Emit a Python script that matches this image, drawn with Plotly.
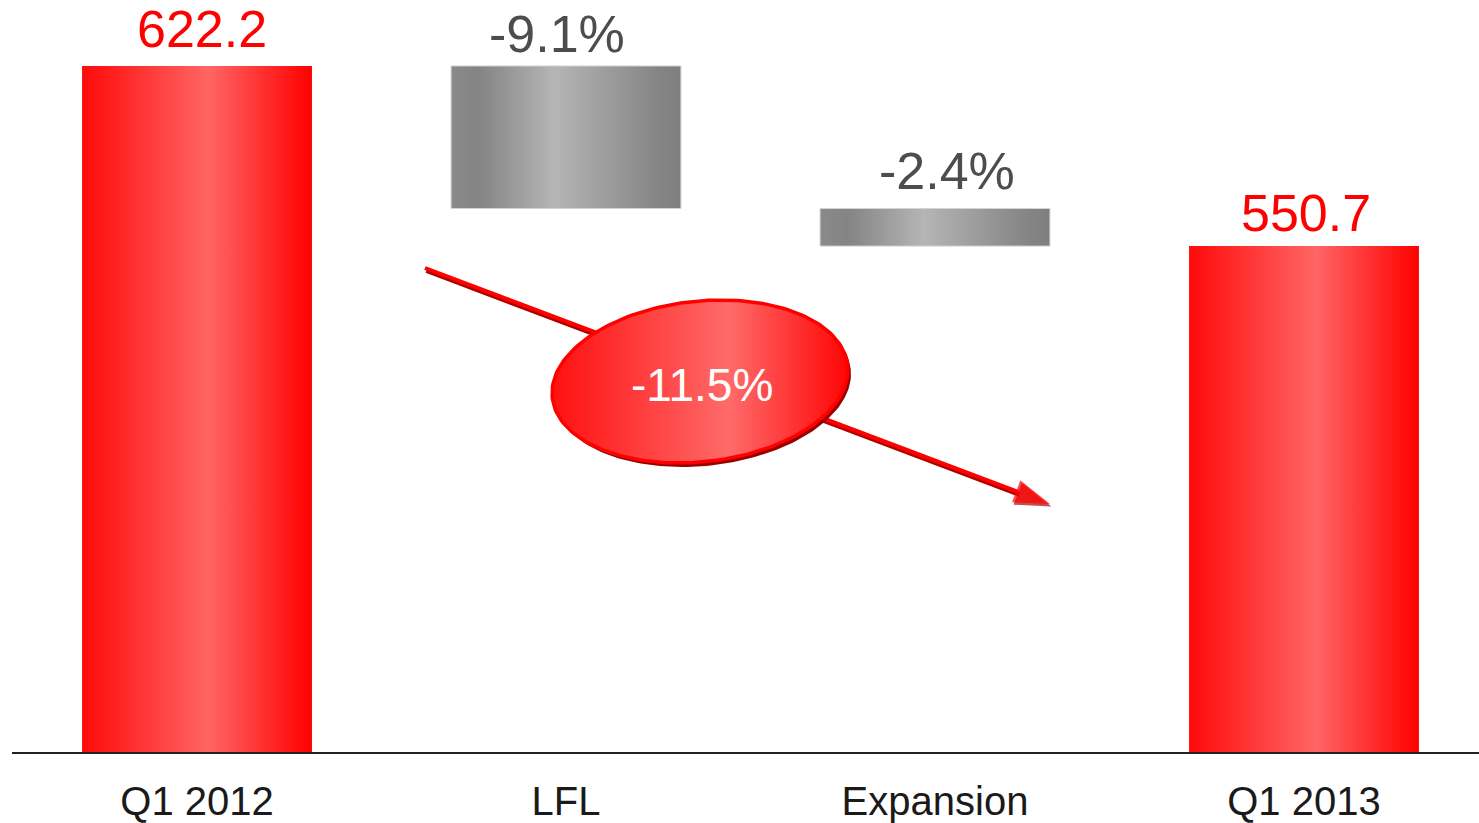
import numpy as np
import plotly.graph_objects as go

# ---------------- data ----------------
categories = ["Q1 2012", "LFL", "Expansion", "Q1 2013"]
start_value = 622.2
change_pct = [-9.1, -2.4]          # LFL, Expansion (% of Q1 2012)
end_value = 550.7
total_change_pct = -11.5

# waterfall levels derived from the data
lfl_level = start_value * (1 + change_pct[0] / 100.0)
exp_level = lfl_level + start_value * change_pct[1] / 100.0
bar_lo = [0.0, lfl_level, exp_level, 0.0]
bar_hi = [start_value, start_value, lfl_level, end_value]
bar_kind = ["total", "delta", "delta", "total"]
label_text = [f"{start_value:.1f}", f"{change_pct[0]:.1f}%", f"{change_pct[1]:.1f}%", f"{end_value:.1f}"]

# ---------------- layout geometry ----------------
W, H = 1479, 823
ML, MR, MT, MB = 12, 0, 0, 71
X_RANGE = [-0.5014, 3.4743]
Y_RANGE = [349.7, 648.4]
PLOT_W = W - ML - MR
PLOT_H = H - MT - MB
PX_X = PLOT_W / (X_RANGE[1] - X_RANGE[0])
PX_Y = PLOT_H / (Y_RANGE[1] - Y_RANGE[0])
BAR_W = 0.623


def px_to_data(px, py):
    return X_RANGE[0] + (np.asarray(px) - ML) / PX_X, Y_RANGE[1] - (np.asarray(py) - MT) / PX_Y


RED_SCALE = [[0, "#ff0a0a"], [0.55, "#ff6565"], [1, "#ff0000"]]
GRAY_SCALE = [[0, "#8a8a8a"], [0.12, "#848484"], [0.45, "#b5b5b5"], [0.9, "#858585"], [1, "#7f7f7f"]]
FONT = "Liberation Sans"

fig = go.Figure()

# ---------------- bars ----------------
for i, (cat, lo, hi, kind) in enumerate(zip(categories, bar_lo, bar_hi, bar_kind)):
    x0, x1 = i - BAR_W / 2, i + BAR_W / 2
    red = kind == "total"
    fig.add_trace(go.Scatter(
        x=[x0, x1, x1, x0, x0], y=[lo, lo, hi, hi, lo],
        mode="lines", fill="toself",
        fillgradient=dict(type="horizontal", colorscale=RED_SCALE if red else GRAY_SCALE),
        line=dict(width=0 if red else 1, color="#ff0000" if red else "#d4d4d4"),
        name=cat, hoverinfo="skip", showlegend=False,
    ))

# ---------------- trend arrow (decoration) ----------------
arrow_px = np.array([425, 1050])
arrow_py = np.array([268, 504])
for dy, col, lw in [(2.5, "#b00000", 5), (0, "#ff0000", 4)]:
    ax_, ay_ = px_to_data(arrow_px + 1.5 * (dy > 0), arrow_py + dy)
    fig.add_trace(go.Scatter(
        x=ax_, y=ay_, mode="lines+markers",
        line=dict(color=col, width=lw),
        marker=dict(symbol="arrow", size=[0, 38], angleref="previous", color=col, line=dict(width=0)),
        hoverinfo="skip", showlegend=False,
    ))

# ---------------- ellipse badge (decoration) ----------------
t = np.linspace(0, 2 * np.pi, 200)
cx, cy, a, b, th = 700, 381.5, 148.6, 80.3, np.deg2rad(6.3)
ex = cx + a * np.cos(t) * np.cos(th) - b * np.sin(t) * np.sin(th)
ey = cy - (a * np.cos(t) * np.sin(th) + b * np.sin(t) * np.cos(th))
# shadow
sx, sy = px_to_data(ex + 3, ey + 4)
fig.add_trace(go.Scatter(x=sx, y=sy, mode="lines", fill="toself", fillcolor="#990000",
                         line=dict(width=0, color="#990000"), hoverinfo="skip", showlegend=False))
dx_, dy_ = px_to_data(ex, ey)
fig.add_trace(go.Scatter(
    x=dx_, y=dy_, mode="lines", fill="toself",
    fillgradient=dict(type="horizontal", colorscale=[[0, "#ff1010"], [0.6, "#ff6a6a"], [1, "#ff0505"]]),
    line=dict(width=3.5, color="#ff0000"), hoverinfo="skip", showlegend=False,
))
bx, by = px_to_data(702, 385)
fig.add_annotation(x=float(bx), y=float(by), text=f"{total_change_pct:.1f}%", showarrow=False,
                   font=dict(family=FONT, size=46, color="white"), xanchor="center", yanchor="middle")

# ---------------- value labels ----------------
label_colors = ["#ff0000", "#4d4d4d", "#4d4d4d", "#ff0000"]
label_xshift = [5, -9, 12, 2]
label_yshift = [37, 32, 38, 33]
for i, (txt, hi, col) in enumerate(zip(label_text, bar_hi, label_colors)):
    fig.add_annotation(x=i, y=hi, text=txt, showarrow=False, xanchor="center", yanchor="middle",
                       xshift=label_xshift[i], yshift=label_yshift[i],
                       font=dict(family=FONT, size=52, color=col))

fig.update_layout(
    width=W, height=H,
    margin=dict(l=ML, r=MR, t=MT, b=MB, autoexpand=False),
    paper_bgcolor="white", plot_bgcolor="white",
    showlegend=False,
    xaxis=dict(range=X_RANGE, tickvals=list(range(len(categories))), ticktext=categories,
               showgrid=False, zeroline=False, showline=True, linecolor="#222222", linewidth=1.5,
               ticks="", tickfont=dict(family=FONT, size=40, color="#1a1a1a"), ticklabelstandoff=13,
               automargin=False, fixedrange=True),
    yaxis=dict(range=Y_RANGE, visible=False, showgrid=False, zeroline=False,
               automargin=False, fixedrange=True),
)

fig.write_html("out.html", config={"displayModeBar": False},
               post_script="document.body.style.margin='0';document.body.style.overflow='hidden';")
